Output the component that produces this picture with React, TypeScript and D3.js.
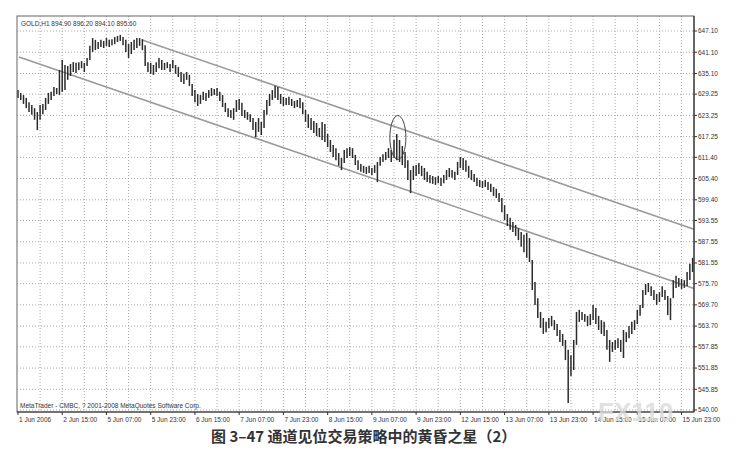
import { scaleLinear } from 'd3';
import React from 'react';

// GOLD H1 bars (high / low per hourly bar)
const highs = [
	630.4, 629.6, 629.0, 628.2, 627.0, 626.2, 625.3, 624.2, 626.2, 626.5,
	628.2, 629.6, 629.9, 631.3, 631.0, 636.1, 638.9, 637.5, 637.2, 637.8,
	638.3, 638.1, 638.3, 638.6, 638.1, 639.5, 642.9, 645.1, 644.6, 644.0,
	644.6, 644.3, 645.1, 644.6, 644.8, 645.4, 645.7, 646.0, 645.4, 644.6,
	643.4, 644.0, 644.6, 645.1, 645.1, 644.8, 643.1, 638.3, 638.1, 637.5,
	638.3, 639.5, 638.9, 638.1, 638.3, 637.8, 638.9, 637.5, 636.9, 635.5,
	635.0, 635.5, 634.7, 632.1, 630.4, 629.3, 629.0, 629.9, 629.6, 630.4,
	631.0, 630.7, 631.0, 629.9, 629.0, 626.8, 625.3, 624.8, 625.3, 627.6,
	627.9, 626.8, 624.8, 624.2, 623.6, 622.5, 621.4, 622.5, 621.4, 624.8,
	627.6, 629.3, 630.4, 631.6, 631.3, 629.3, 628.5, 628.2, 628.5, 627.9,
	627.3, 627.6, 628.2, 627.0, 624.8, 623.6, 622.5, 621.7, 621.1, 619.7,
	621.4, 620.8, 618.0, 616.3, 614.9, 614.0, 612.6, 611.2, 613.5, 614.0,
	614.3, 614.0, 612.1, 610.6, 609.5, 609.0, 608.7, 609.0, 608.4, 609.2,
	610.1, 611.5, 612.3, 612.9, 614.0, 613.5, 616.3, 618.0, 616.3, 614.6,
	612.9, 610.6, 607.8, 609.0, 609.2, 609.8, 609.0, 608.4, 607.3, 606.4,
	606.1, 605.8, 606.1, 605.6, 606.4, 607.8, 608.4, 607.8, 607.3, 610.1,
	611.5, 611.2, 610.6, 609.0, 607.8, 606.7, 605.6, 605.0, 604.7, 605.0,
	604.4, 603.9, 603.0, 602.5, 601.3, 599.9, 597.9, 595.4, 594.3, 593.1,
	592.3, 591.4, 590.3, 589.5, 590.0, 588.6, 582.4, 576.2, 571.6, 567.7,
	566.0, 564.9, 566.0, 566.6, 565.4, 564.3, 562.6, 561.5, 559.8, 557.0,
	555.5, 559.8, 567.7, 568.3, 567.7, 567.1, 566.6, 567.1, 569.7, 568.8,
	566.6, 565.4, 564.9, 562.6, 559.8, 559.2, 559.8, 560.3, 559.8, 562.6,
	562.0, 563.7, 564.9, 565.4, 568.3, 569.7, 573.9, 575.6, 575.9, 575.0,
	573.9, 572.8, 573.3, 575.0, 573.9, 572.2, 571.6, 576.7, 577.9, 577.3,
	577.0, 576.7, 579.0, 581.3, 583.0,
];
const lows = [
	628.2, 627.6, 626.5, 625.3, 624.2, 623.4, 622.0, 619.1, 622.0, 623.6,
	624.8, 626.5, 627.6, 628.7, 629.3, 629.0, 629.9, 630.4, 633.3, 634.4,
	635.5, 635.2, 636.1, 636.6, 635.5, 637.2, 638.9, 641.2, 641.7, 642.0,
	642.6, 642.3, 642.9, 642.6, 643.1, 643.4, 644.0, 644.3, 643.1, 641.2,
	639.5, 640.6, 641.7, 642.3, 642.9, 641.7, 637.2, 635.5, 635.0, 634.7,
	635.5, 636.6, 636.1, 636.1, 636.6, 635.5, 636.6, 635.0, 634.1, 632.7,
	632.1, 633.3, 631.6, 628.7, 627.0, 625.9, 626.5, 627.6, 627.3, 628.2,
	628.7, 629.0, 628.7, 627.3, 625.6, 624.2, 622.8, 622.5, 622.0, 624.2,
	624.8, 623.1, 622.5, 622.0, 621.4, 619.1, 617.1, 618.6, 617.7, 619.7,
	623.4, 625.9, 627.6, 628.2, 627.6, 626.5, 625.9, 626.2, 626.2, 625.9,
	625.3, 625.6, 625.3, 623.6, 621.4, 619.7, 619.1, 618.3, 617.4, 617.1,
	616.3, 615.7, 614.3, 612.9, 611.5, 610.6, 609.0, 607.8, 609.8, 611.2,
	611.8, 611.2, 609.2, 607.8, 607.3, 607.0, 606.7, 607.0, 606.4, 607.0,
	604.4, 609.0, 610.1, 610.6, 611.2, 610.1, 611.2, 610.6, 610.1, 609.2,
	608.4, 605.0, 601.3, 605.0, 606.1, 606.7, 606.1, 605.0, 604.4, 604.1,
	603.9, 603.6, 604.1, 603.3, 604.1, 605.0, 605.8, 605.6, 605.0, 606.4,
	608.4, 607.8, 607.3, 605.6, 605.0, 604.4, 603.3, 603.0, 602.7, 603.0,
	602.2, 601.6, 600.5, 599.9, 598.8, 595.9, 593.7, 592.0, 590.9, 590.3,
	589.2, 588.0, 586.1, 584.6, 583.0, 581.8, 573.9, 569.7, 566.0, 563.2,
	561.5, 562.0, 563.2, 563.7, 562.6, 560.9, 559.2, 558.1, 554.1, 542.0,
	549.6, 551.3, 558.4, 564.9, 565.4, 564.9, 563.7, 564.0, 565.4, 564.3,
	562.6, 561.5, 560.9, 557.0, 553.6, 556.4, 557.0, 557.5, 556.4, 554.7,
	559.2, 560.3, 561.5, 562.6, 564.3, 566.6, 568.8, 572.5, 573.3, 572.2,
	571.1, 569.7, 570.5, 571.9, 571.1, 566.8, 565.4, 571.6, 574.5, 574.8,
	574.2, 574.5, 575.0, 576.7, 579.0,
];

// one label every 16 bars
const timeLabels = [
	'1 Jun 2006', '2 Jun 15:00', '5 Jun 07:00', '5 Jun 23:00', '6 Jun 15:00',
	'7 Jun 07:00', '7 Jun 23:00', '8 Jun 15:00', '9 Jun 07:00', '9 Jun 23:00',
	'12 Jun 15:00', '13 Jun 07:00', '13 Jun 23:00', '14 Jun 15:00', '15 Jun 07:00',
	'15 Jun 23:00',
];
const priceTicks = [
	647.1, 641.1, 635.1, 629.25, 623.25, 617.25, 611.4, 605.4, 599.4, 593.55,
	587.55, 581.55, 575.7, 569.7, 563.7, 557.85, 551.85, 545.85, 540.0,
];

// channel lines as [bar, price]
const upperChannel = [[44.9, 644.56], [244.5, 591.1]];
const lowerChannel = [[0.35, 639.75], [244.5, 574.3]];
// evening star marker: centre [bar, price], half-width in bars, half-height in price
const starMark = { bar: 137.4, price: 617.0, rBars: 2.9, rPrice: 6.2 };

const width = 748;
const height = 462;
const plot = { left: 17, right: 694, top: 16, bottom: 412 };

const App = () => {
	const xScale = scaleLinear().domain([-0.35, 244.5]).range([plot.left, plot.right]);
	const yScale = scaleLinear().domain([539.43, 651.34]).range([plot.bottom, plot.top]);

	const gridBars: number[] = [];
	for (let b = 8; b < 245; b += 8) gridBars.push(b);

	const font = '"Liberation Sans", Arial, sans-serif';
	const lineOf = (pts: number[][]) => ({
		x1: xScale(pts[0][0]),
		y1: yScale(pts[0][1]),
		x2: xScale(pts[1][0]),
		y2: yScale(pts[1][1]),
	});

	return (
		<svg
			width={width}
			height={height}
			style={{ position: 'absolute', left: 0, top: 0, background: '#fff' }}
		>
			{/* grid */}
			{priceTicks.map(p => (
				<line
					key={'h' + p}
					x1={plot.left}
					x2={plot.right}
					y1={yScale(p)}
					y2={yScale(p)}
					stroke="#aaa"
					strokeDasharray="1,2"
				/>
			))}
			{gridBars.map(b => (
				<line
					key={'v' + b}
					x1={xScale(b)}
					x2={xScale(b)}
					y1={plot.top}
					y2={plot.bottom}
					stroke="#aaa"
					strokeDasharray="1,2"
				/>
			))}

			{/* channel */}
			<line {...lineOf(upperChannel)} stroke="#9a9a9a" strokeWidth={1.6} />
			<line {...lineOf(lowerChannel)} stroke="#9a9a9a" strokeWidth={1.6} />

			{/* bars */}
			{highs.map((h, i) => (
				<line
					key={i}
					x1={xScale(i)}
					x2={xScale(i)}
					y1={yScale(h)}
					y2={yScale(lows[i])}
					stroke="#2b2b2b"
					strokeWidth={1.5}
				/>
			))}

			<ellipse
				cx={xScale(starMark.bar)}
				cy={yScale(starMark.price)}
				rx={xScale(starMark.bar + starMark.rBars) - xScale(starMark.bar)}
				ry={yScale(starMark.price - starMark.rPrice) - yScale(starMark.price)}
				fill="none"
				stroke="#444"
				strokeWidth={1}
			/>

			{/* frame */}
			<rect
				x={plot.left}
				y={plot.top}
				width={plot.right - plot.left}
				height={plot.bottom - plot.top}
				fill="none"
				stroke="#666"
			/>
			<line x1={plot.right} x2={plot.right} y1={plot.top} y2={plot.bottom} stroke="#333" strokeWidth={1.2} />
			<line x1={plot.left} x2={plot.right} y1={plot.bottom} y2={plot.bottom} stroke="#333" strokeWidth={1.2} />

			<text x={21} y={25.5} fontFamily={font} fontSize={6.5} fill="#333">
				GOLD,H1 894.90 896.20 894.10 895.60
			</text>
			<text x={20} y={407.5} fontFamily={font} fontSize={6.5} fill="#333">
				MetaTrader - CMBC, ? 2001-2008 MetaQuotes Software Corp.
			</text>

			{/* price axis */}
			{priceTicks.map(p => (
				<g key={'t' + p} transform={`translate(${plot.right},${yScale(p)})`}>
					<line x2={3} stroke="#333" />
					<text x={4} dy="0.35em" fontFamily={font} fontSize={6.5} fill="#333">
						{p.toFixed(2)}
					</text>
				</g>
			))}

			{/* time axis */}
			{timeLabels.map((t, k) => (
				<g key={t} transform={`translate(${xScale(k * 16)},${plot.bottom})`}>
					<line y2={3} stroke="#333" />
					<text x={1} y={9.5} fontFamily={font} fontSize={6.5} fill="#333">
						{t}
					</text>
				</g>
			))}

			{/* scan watermark */}
			<text
				x={598}
				y={421}
				fontFamily={font}
				fontWeight="bold"
				fontSize={26}
				fill="#dadada"
				opacity={0.8}
			>
				FX110
			</text>

			<text
				x={211}
				y={442}
				fontFamily='"Noto Sans CJK SC", sans-serif'
				fontWeight="bold"
				fontSize={15}
				fill="#333"
			>
				图 3–47 通道见位交易策略中的黄昏之星（2）
			</text>
		</svg>
	);
};

export default App;
